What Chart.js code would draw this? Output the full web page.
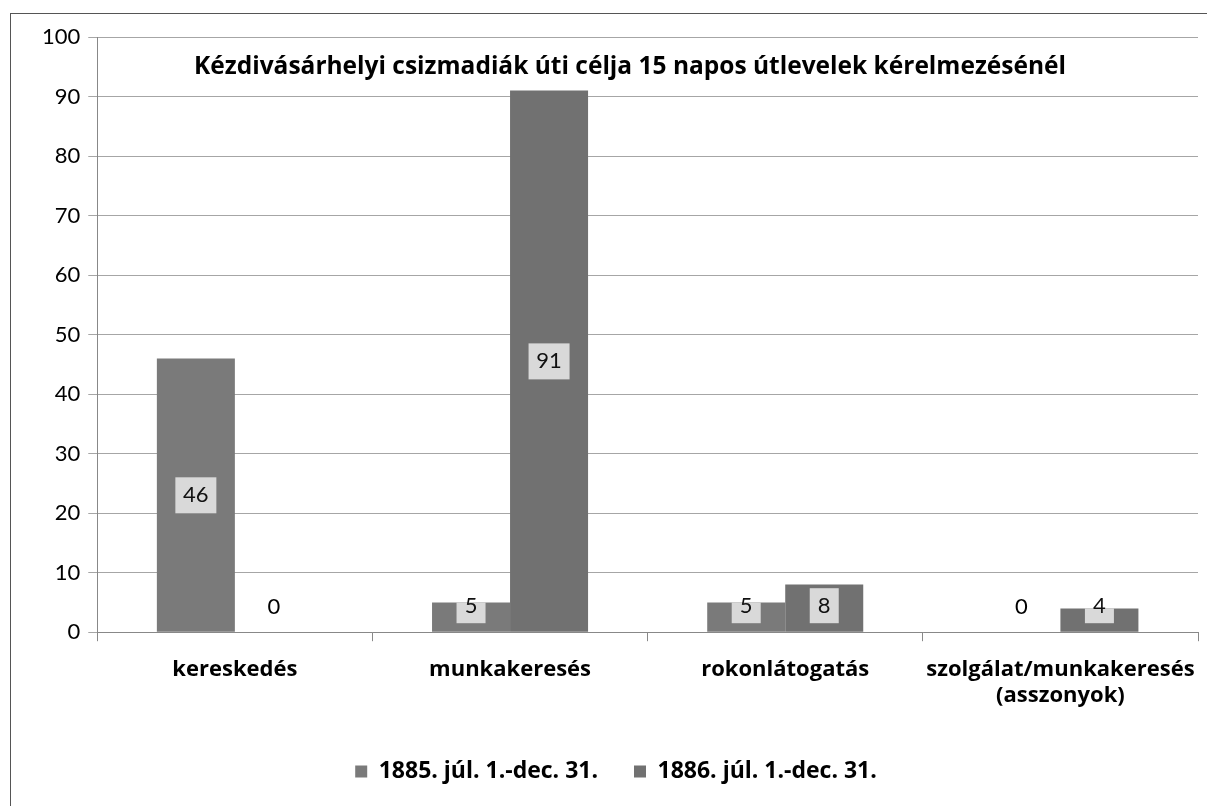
<!DOCTYPE html>
<html>
<head>
<meta charset="utf-8">
<script src="https://cdn.jsdelivr.net/npm/chart.js@4/dist/chart.umd.min.js"></script>
<style>
  html, body { margin: 0; padding: 0; background: #fff; }
  #wrap { position: relative; width: 1207px; height: 806px; }
  #frame { position: absolute; left: 10px; top: 13px; width: 1300px; height: 900px; border: 1px solid #555; box-sizing: border-box; }
  canvas { position: absolute; left: 0; top: 0; }
</style>
</head>
<body>
<div id="wrap">
  <div id="frame"></div>
  <canvas id="barChart" width="1207" height="806"></canvas>
</div>
<script>
const chartTitle = 'Kézdivásárhelyi csizmadiák úti célja 15 napos útlevelek kérelmezésénél';
const categories = ['kereskedés', 'munkakeresés', 'rokonlátogatás', ['szolgálat/munkakeresés', '(asszonyok)']];
const seriesNames = ['1885. júl. 1.-dec. 31.', '1886. júl. 1.-dec. 31.'];
const values1885 = [46, 5, 5, 0];
const values1886 = [0, 91, 8, 4];
const yTicks = [0, 10, 20, 30, 40, 50, 60, 70, 80, 90, 100];

const FONT = 'Lato, "Open Sans", sans-serif';
const BOLD_FONT = '"Open Sans", Lato, sans-serif';

// title drawn inside the plot area, like the original
const innerTitle = {
  id: 'innerTitle',
  afterDraw(chart) {
    const { ctx, chartArea } = chart;
    ctx.save();
    ctx.font = 'bold 24.5px ' + BOLD_FONT;
    ctx.fillStyle = '#000';
    ctx.textAlign = 'center';
    ctx.textBaseline = 'middle';
    ctx.fillText(chartTitle, 630, chartArea.top + 30);
    ctx.restore();
  }
};

// value labels in light boxes
const valueLabels = {
  id: 'valueLabels',
  afterDatasetsDraw(chart) {
    const { ctx } = chart;
    const base = chart.scales.y.getPixelForValue(0);
    ctx.save();
    ctx.font = '22px ' + FONT;
    ctx.textAlign = 'center';
    ctx.textBaseline = 'middle';
    chart.data.datasets.forEach((ds, i) => {
      chart.getDatasetMeta(i).data.forEach((bar, j) => {
        const v = ds.data[j];
        const txt = String(v);
        if (v === 0) {
          ctx.fillStyle = '#000';
          ctx.fillText(txt, bar.x, base - 25);
          return;
        }
        const mid = (bar.y + base) / 2;
        const cy = Math.min(mid, base - 26);
        const w = txt.length > 1 ? 41 : 29;
        const top = Math.max(cy - 18, bar.y);
        const bottom = Math.min(cy + 18, base - 9);
        ctx.fillStyle = '#d9d9d9';
        ctx.fillRect(bar.x - w / 2, top, w, bottom - top);
        ctx.fillStyle = '#111';
        ctx.fillText(txt, bar.x, cy);
      });
    });
    ctx.restore();
  }
};

new Chart(document.getElementById('barChart').getContext('2d'), {
  type: 'bar',
  data: {
    labels: categories,
    datasets: [
      { label: seriesNames[0], data: values1885, backgroundColor: '#7a7a7a' },
      { label: seriesNames[1], data: values1886, backgroundColor: '#717171' }
    ]
  },
  options: {
    responsive: false,
    animation: false,
    categoryPercentage: 0.567,
    barPercentage: 1,
    layout: { padding: { left: 34, right: 9, top: 37, bottom: 13 } },
    plugins: {
      legend: {
        position: 'bottom',
        labels: {
          boxWidth: 12, boxHeight: 12, padding: 36,
          color: '#000',
          font: { family: BOLD_FONT, size: 23, weight: 'bold' }
        }
      },
      tooltip: { enabled: false }
    },
    scales: {
      x: {
        afterFit(scale) { scale.paddingRight = 0; },
        grid: { drawOnChartArea: false, tickLength: 9, color: '#888', offset: true },
        border: { color: '#888' },
        ticks: {
          color: '#000', padding: 15, maxRotation: 0, minRotation: 0, autoSkip: false,
          font: { family: BOLD_FONT, size: 22, weight: 'bold' }
        }
      },
      y: {
        min: 0, max: 100,
        afterBuildTicks(axis) { axis.ticks = yTicks.map(v => ({ value: v })); },
        grid: { color: '#a6a6a6', tickLength: 9 },
        border: { color: '#888' },
        ticks: { color: '#000', padding: 8, font: { family: FONT, size: 22 } }
      }
    }
  },
  plugins: [innerTitle, valueLabels]
});
</script>
</body>
</html>
